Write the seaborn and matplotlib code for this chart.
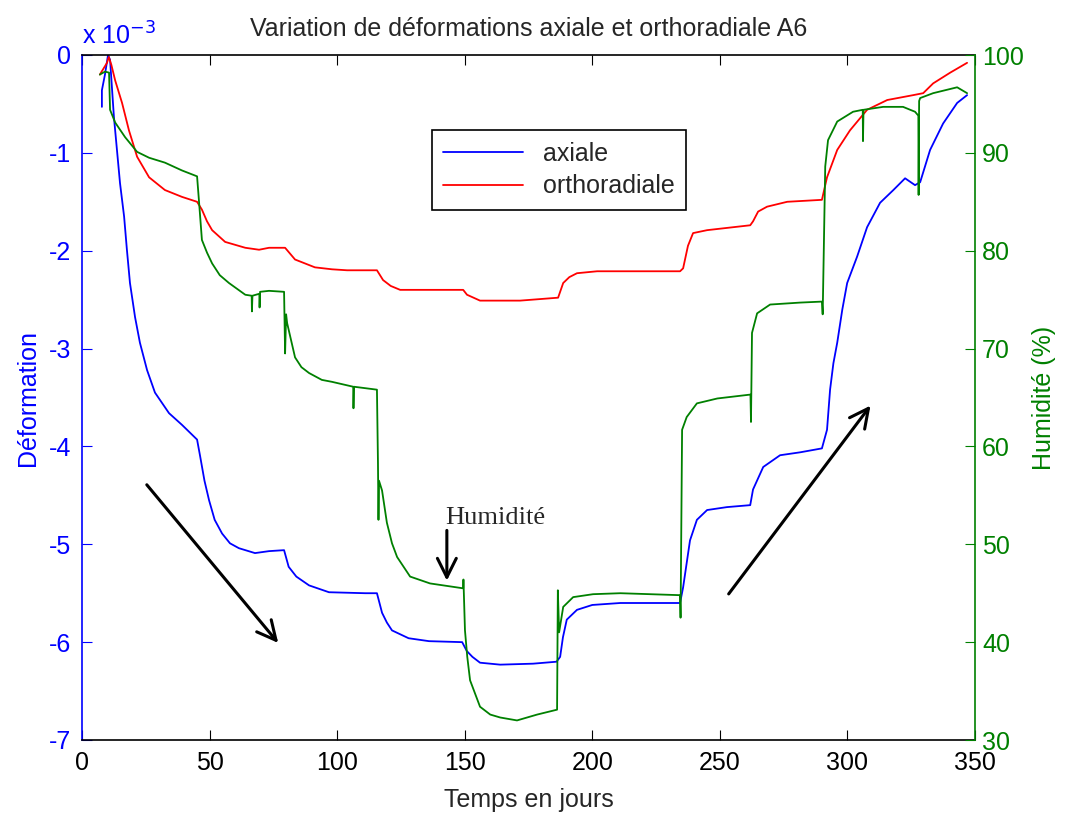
import numpy as np
import pandas as pd
import seaborn as sns
import matplotlib
matplotlib.use("Agg")
import matplotlib.pyplot as plt

# deformation values in 1e-3 units
axial_t = [7.8, 7.8, 9, 10.2, 11, 12.5, 13.7, 14.9, 16.5, 17.6, 18.8, 20.8, 22.7, 25.5, 28.6,
           34.1, 39.2, 45.1, 46.3, 48, 49.8, 52, 54.9, 58, 61.5, 67.8, 73.3, 79.2, 81, 84,
           89, 96.8, 111, 115.6, 117.6, 119.5, 121.5, 128, 136, 149, 150.8, 153, 156, 163.9,
           176.8, 186, 187.4, 188.5, 190, 194, 200, 211, 234.4, 235.6, 238.3, 241, 245,
           252.8, 261.9, 263, 267, 273.6, 281.5, 290, 292, 293.2, 294.5, 296, 298, 299.9,
           303.8, 307.7, 312.8, 318, 322.6, 326.5, 328.5, 332.4, 337.5, 343, 346.9]
axial = [-0.53, -0.36, -0.2, 0.0, -0.05, -0.63, -0.97, -1.31, -1.65, -1.99, -2.33, -2.68, -2.94,
         -3.22, -3.45, -3.66, -3.78, -3.93, -4.1, -4.35, -4.55, -4.75, -4.89, -4.99, -5.04,
         -5.09, -5.07, -5.06, -5.23, -5.33, -5.42, -5.49, -5.50, -5.50, -5.70, -5.80, -5.88,
         -5.96, -5.99, -6.0, -6.09, -6.15, -6.21, -6.23, -6.22, -6.2, -6.15, -5.95, -5.77,
         -5.67, -5.62, -5.6, -5.6, -5.44, -4.96, -4.75, -4.65, -4.62, -4.60, -4.44, -4.21,
         -4.09, -4.06, -4.02, -3.83, -3.42, -3.15, -2.94, -2.6, -2.33, -2.06, -1.76, -1.51,
         -1.38, -1.26, -1.33, -1.3, -0.97, -0.70, -0.49, -0.41]

ortho_t = [7, 9.8, 10.5, 11.5, 13, 15.7, 18.4, 21.6, 26.3, 32.5, 39.2, 45.1, 47, 49, 51, 56.1,
           64, 69.4, 73.3, 79.6, 83.5, 91.3, 98, 103.9, 115.6, 118, 121, 124.7, 149.4, 150.9,
           156, 171.7, 186.6, 188.6, 191, 194, 201.9, 234.4, 235.6, 237.5, 239.5, 245, 261.9,
           263, 265, 268.5, 276.4, 290, 292, 296, 301, 307.7, 315.6, 325.8, 329.7, 333.6,
           340.3, 346.9]
ortho = [-0.2, -0.08, -0.02, -0.1, -0.26, -0.49, -0.77, -1.04, -1.25, -1.38, -1.45, -1.50,
         -1.58, -1.70, -1.79, -1.91, -1.97, -1.99, -1.97, -1.97, -2.09, -2.17, -2.19, -2.2,
         -2.2, -2.30, -2.36, -2.40, -2.40, -2.45, -2.51, -2.51, -2.48, -2.33, -2.27, -2.23,
         -2.21, -2.21, -2.18, -1.95, -1.82, -1.79, -1.74, -1.70, -1.60, -1.55, -1.50, -1.48,
         -1.25, -0.97, -0.77, -0.56, -0.46, -0.41, -0.39, -0.29, -0.18, -0.08]

# humidity (%)
hum_t = [7, 9, 10.6, 11, 13, 16.9, 21.6, 26.3, 32.5, 39.2, 45.1, 45.9, 47, 49, 51, 54, 57.6,
         64, 66.5, 66.6, 66.8, 69.5, 69.6, 69.8, 73.3, 79.2, 79.6, 80.0, 80.4, 83.5, 86, 89,
         94, 98, 106.3, 106.4, 106.6, 115.6, 116, 116.2, 116.4, 117.6, 119.5, 121.5, 123.5,
         128.6, 136.4, 149.4, 149.5, 150.1, 151, 152.1, 156, 160, 163.9, 170.5, 178.4, 186.2,
         186.5, 187, 188.6, 192.5, 200.3, 211, 234.4, 234.6, 235.2, 237, 241, 249, 262,
         262.2, 262.6, 264.6, 269.7, 281.5, 290, 290.3, 291.3, 292.4, 296, 302.2, 306,
         306.1, 306.3, 314, 321.8, 326.5, 327.8, 327.9, 328.1, 328.5, 333.6, 343, 346.9]
hum = [98, 98.3, 98.2, 94.4, 93.1, 91.6, 90.1, 89.5, 89.0, 88.2, 87.6, 84.9, 81.1, 79.8, 78.7,
       77.5, 76.7, 75.5, 75.4, 73.8, 75.4, 75.6, 74.2, 75.8, 75.9, 75.8, 69.5, 73.5, 72.6,
       69.1, 68.1, 67.5, 66.8, 66.6, 66.1, 63.9, 66.1, 65.8, 58.3, 52.5, 56.5, 55.5, 52.2,
       50.1, 48.7, 46.7, 46.0, 45.5, 46.4, 41.2, 38.5, 36.1, 33.4, 32.6, 32.3, 32.0, 32.6,
       33.1, 45.3, 41, 43.6, 44.6, 44.9, 45.0, 44.8, 42.5, 61.7, 63.0, 64.4, 64.9, 65.3,
       62.5, 71.6, 73.6, 74.5, 74.7, 74.8, 73.5, 88.6, 91.3, 93.2, 94.2, 94.4, 91.2, 94.4,
       94.7, 94.7, 94.2, 93.8, 85.7, 95.3, 95.6, 96.1, 96.7, 96.1]

df_ax = pd.DataFrame({"t": axial_t, "v": axial})
df_or = pd.DataFrame({"t": ortho_t, "v": ortho})
df_h = pd.DataFrame({"t": hum_t, "v": hum})

sns.set_style("white")
plt.rcParams["font.family"] = ["Liberation Sans", "DejaVu Sans"]
plt.rcParams["axes.unicode_minus"] = False

BLUE = (0, 0, 1)
RED = (1, 0, 0)
GREEN = (0, 0.5, 0)
FS = 18

fig = plt.figure(figsize=(10.69, 8.15), dpi=100)
ax = fig.add_axes([82 / 1069, 75 / 815, 893 / 1069, 685 / 815])
ax2 = ax.twinx()

sns.lineplot(data=df_ax, x="t", y="v", ax=ax, color=BLUE, lw=1.3, sort=False,
             estimator=None, label="axiale")
sns.lineplot(data=df_or, x="t", y="v", ax=ax, color=RED, lw=1.3, sort=False,
             estimator=None, label="orthoradiale")
sns.lineplot(data=df_h, x="t", y="v", ax=ax2, color=GREEN, lw=1.3, sort=False,
             estimator=None, legend=False)

ax.set_xlim(0, 350)
ax.set_ylim(-7, 0)
ax2.set_ylim(30, 100)
ax.set_xticks(np.arange(0, 351, 50))
ax.set_yticks(np.arange(-7, 1, 1))
ax2.set_yticks(np.arange(30, 101, 10))

ax.tick_params(axis="x", direction="in", length=7, top=True, bottom=True,
               labelsize=FS, colors="black", pad=8)
ax.tick_params(axis="y", direction="in", length=7, left=True, right=False,
               labelsize=FS, colors=BLUE, pad=8)
ax2.tick_params(axis="y", direction="in", length=7, right=True, left=False,
                labelsize=FS, colors=GREEN, pad=5)

for s in ["top", "bottom"]:
    ax.spines[s].set_color("black")
ax.spines["left"].set_color(BLUE)
ax.spines["right"].set_visible(False)
ax2.spines["left"].set_visible(False)
ax2.spines["top"].set_visible(False)
ax2.spines["bottom"].set_visible(False)
ax2.spines["right"].set_color(GREEN)
for a in (ax, ax2):
    for s in a.spines.values():
        s.set_linewidth(1.2)

ax.set_xlabel("Temps en jours", fontsize=FS, labelpad=9)
ax.set_ylabel("Déformation", fontsize=FS, color=BLUE, labelpad=6)
ax2.set_ylabel("Humidité (%)", fontsize=FS, color=GREEN, labelpad=6)
ax.set_title("Variation de déformations axiale et orthoradiale A6", fontsize=FS, pad=14)
ax.text(0, 1.008, r"x 10$^{-3}$", transform=ax.transAxes, color=BLUE, fontsize=FS,
        ha="left", va="bottom")

leg = ax.legend(loc="upper left", bbox_to_anchor=(0.392, 0.89), fontsize=FS,
                frameon=True, fancybox=False, framealpha=1, edgecolor="black",
                handlelength=3.2, borderpad=0.45, labelspacing=0.35, borderaxespad=0)
leg.get_frame().set_linewidth(1.2)
leg.set_zorder(10)

# trend arrows
arrow = dict(arrowstyle="->", lw=2.2, color="black", mutation_scale=34)
ax.annotate("", xy=(77.6, -6.03), xytext=(24.7, -4.37), arrowprops=arrow)
ax.annotate("", xy=(309.7, -3.56), xytext=(252.8, -5.53), arrowprops=arrow)
ax.annotate("", xy=(143, -5.40), xytext=(143, -4.83), arrowprops=arrow)
ax.text(162, -4.73, "Humidité", fontsize=19, family="Liberation Serif", ha="center",
        va="center")

fig.savefig("out.png", dpi=100)
